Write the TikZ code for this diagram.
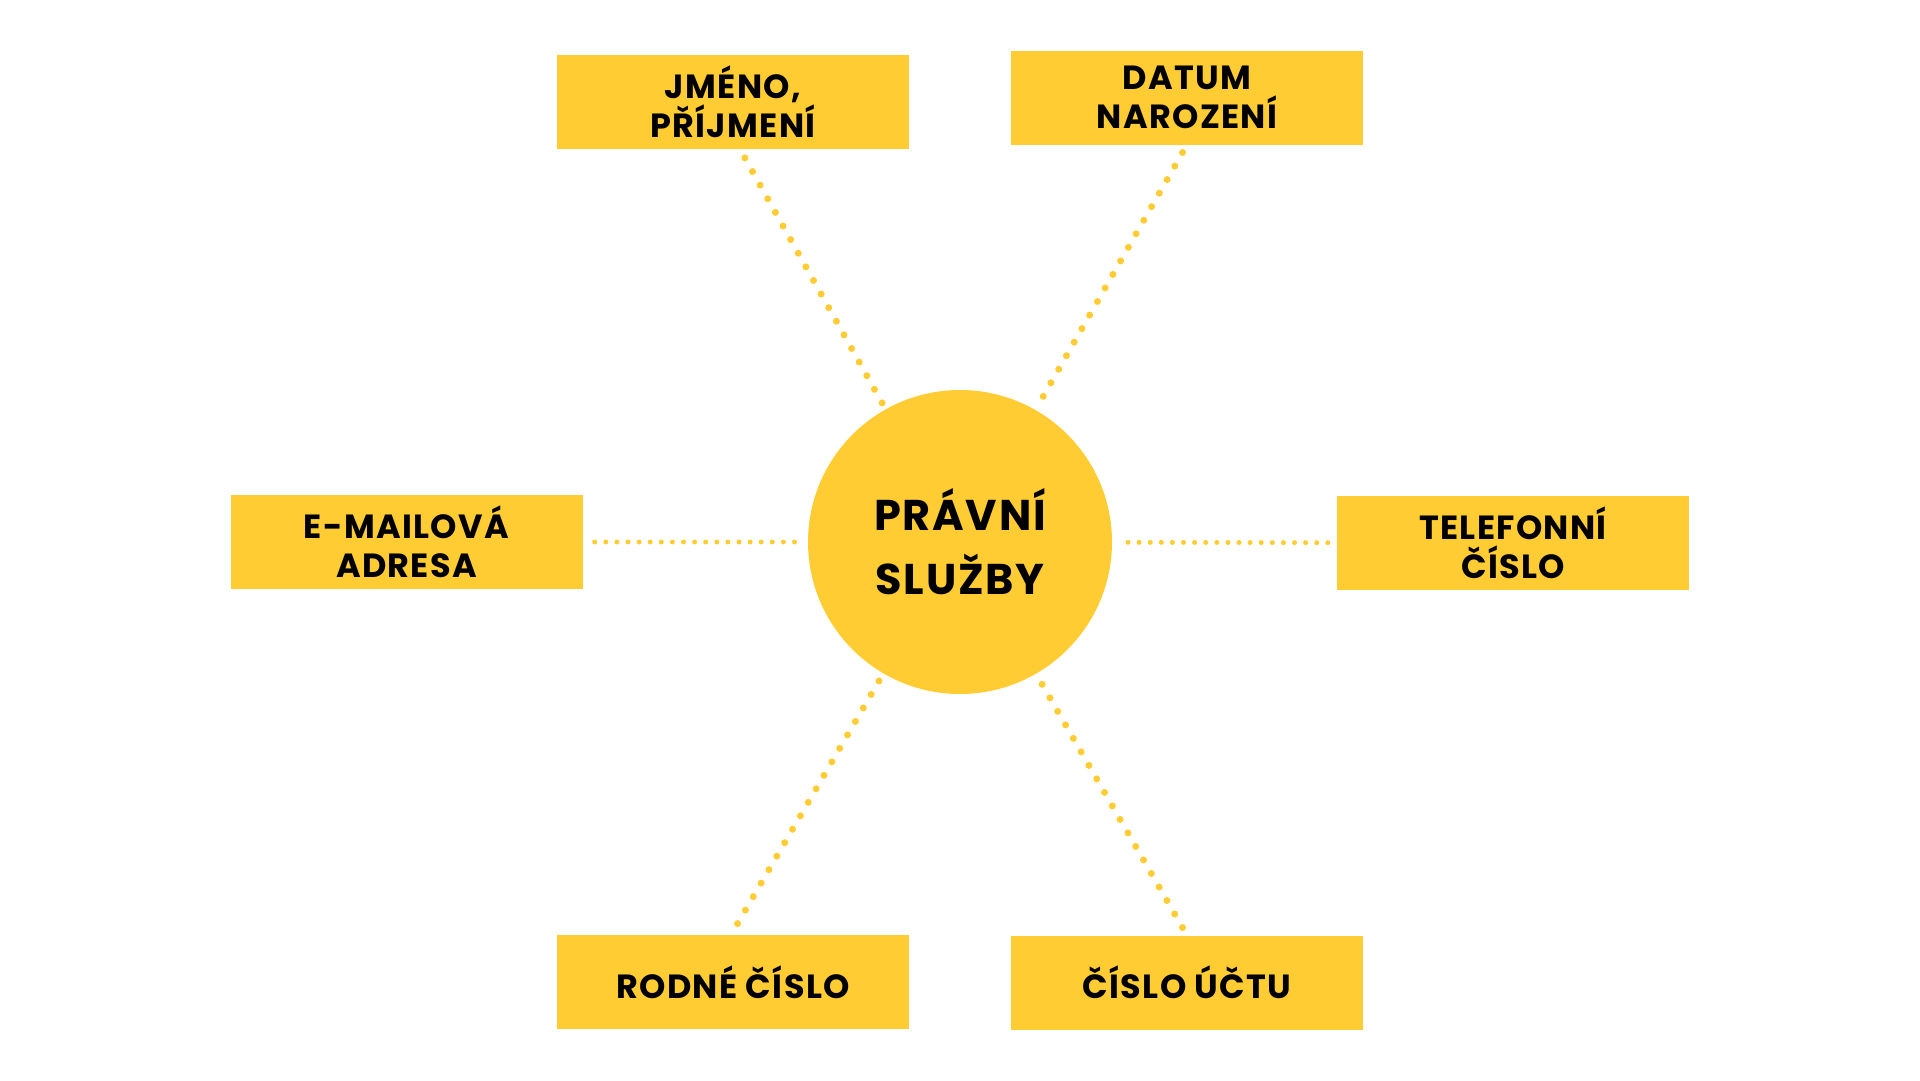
\documentclass[tikz,border=0pt]{standalone}
\usepackage{fontspec}
\setmainfont{Poppins}[LetterSpace=4]
\definecolor{sunyellow}{HTML}{FFCC33}

\begin{document}
\begin{tikzpicture}[
  x=1pt, y=-1pt,
  field/.style={
    rectangle, fill=sunyellow,
    align=center, font=\bfseries\fontsize{33.5}{39}\selectfont,
    minimum width=352pt, minimum height=94pt, inner sep=0pt
  },
  core/.style={
    circle, fill=sunyellow,
    align=center, font=\bfseries\fontsize{43}{64}\selectfont,
    minimum size=304pt, inner sep=0pt
  },
  dotlink/.style={draw=sunyellow, line width=7pt, line cap=round,
    dash pattern=on 0pt off 15.6pt},
  flatlink/.style={draw=sunyellow, line width=5pt, line cap=round,
    dash pattern=on 0pt off 11.1pt}
]
\useasboundingbox (0,0) rectangle (1920,1080);

% =====================================================
% CENTRE
% =====================================================

\node[core] (services) at (960,542) {PRÁVNÍ\\SLUŽBY};

% =====================================================
% DATA FIELDS
% =====================================================

\node[field] (name)    at (733,102)    {JMÉNO,\\PŘÍJMENÍ};
\node[field] (birth)   at (1187,97.5)  {DATUM\\NAROZENÍ};
\node[field] (email)   at (406.5,542)  {E-MAILOVÁ\\ADRESA};
\node[field] (phone)   at (1513,543)   {TELEFONNÍ\\ČÍSLO};
\node[field] (idnum)   at (733,982)    {RODNÉ ČÍSLO};
\node[field] (account) at (1187,982.5) {ČÍSLO ÚČTU};

% =====================================================
% LINKS
% =====================================================

\draw[dotlink, shorten <=10pt, shorten >=4pt] ([xshift=7pt]name.south) -- (services);
\draw[dotlink, shorten <=9pt, shorten >=8pt] (birth.south) -- (services);
\draw[dotlink, shorten <=13pt, shorten >=5pt] ([xshift=-2pt]idnum.north) -- (services);
\draw[dotlink, shorten <=9pt, shorten >=11pt] (account.north) -- (services);

\draw[flatlink, shorten <=12pt, shorten >=10pt] (email) -- (services);
\draw[flatlink, shorten <=9pt, shorten >=15pt] (phone) -- (services);

\end{tikzpicture}
\end{document}
